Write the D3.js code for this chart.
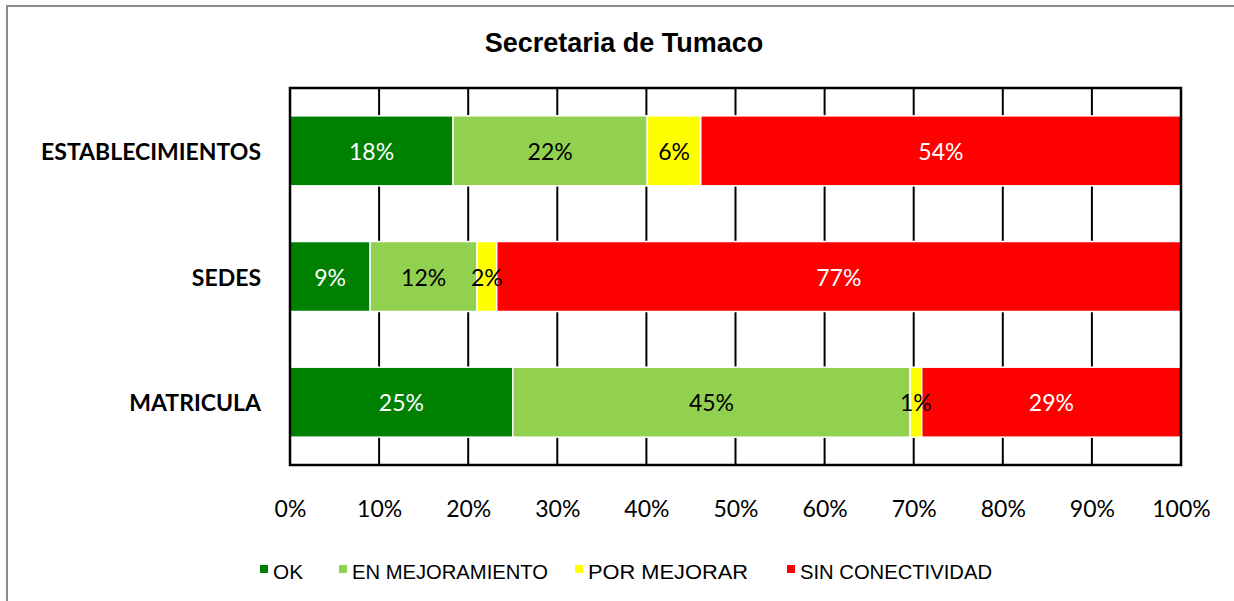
<!DOCTYPE html>
<html><head><meta charset="utf-8">
<script src="https://cdn.jsdelivr.net/npm/d3@7"></script>
<style>body{margin:0;background:#fff;overflow:hidden}</style>
</head><body>
<svg id="c" width="1234" height="601"></svg>
<script>
const categories = ["ESTABLECIMIENTOS", "SEDES", "MATRICULA"];
const seriesNames = ["OK", "EN MEJORAMIENTO", "POR MEJORAR", "SIN CONECTIVIDAD"];
const okValues = [18.3, 9.0, 25.0];
const enMejoramientoValues = [21.8, 12.0, 44.6];
const porMejorarValues = [6.0, 2.2, 1.3];
const sinConectividadValues = [53.9, 76.8, 29.1];
const tickValues = [0, 10, 20, 30, 40, 50, 60, 70, 80, 90, 100];
const titleText = "Secretaria de Tumaco";

const seriesColors = ["#008000", "#92d050", "#ffff00", "#ff0000"];
const labelColors = ["#ffffff", "#000000", "#000000", "#ffffff"];

const rows = categories.map((c, i) => ({
  cat: c,
  [seriesNames[0]]: okValues[i],
  [seriesNames[1]]: enMejoramientoValues[i],
  [seriesNames[2]]: porMejorarValues[i],
  [seriesNames[3]]: sinConectividadValues[i]
}));

const svg = d3.select("#c");
const plot = {left: 290, right: 1181, top: 88, bottom: 465};

// outer chart border
svg.append("rect").attr("x", 7).attr("y", 6).attr("width", 1240).attr("height", 610)
  .attr("fill", "#fff").attr("stroke", "#8c8c8c").attr("stroke-width", 2);

const x = d3.scaleLinear().domain([0, 100]).range([plot.left, plot.right]);
const y = d3.scaleBand().domain(categories).range([plot.top, plot.bottom])
  .paddingInner(0.443).paddingOuter(0.2215);

// gridlines
svg.append("g").selectAll("line").data(tickValues).join("line")
  .attr("x1", d => x(d)).attr("x2", d => x(d))
  .attr("y1", plot.top).attr("y2", plot.bottom)
  .attr("stroke", "#000").attr("stroke-width", 2);

// bars
const stack = d3.stack().keys(seriesNames)(rows);
const g = svg.append("g");
stack.forEach((s, si) => {
  g.selectAll(null).data(s).join("rect")
    .attr("x", d => x(d[0])).attr("width", d => x(d[1]) - x(d[0]))
    .attr("y", d => y(d.data.cat)).attr("height", y.bandwidth())
    .attr("fill", seriesColors[si]).attr("stroke", "#fff").attr("stroke-width", 1.5);
});
// data labels
stack.forEach((s, si) => {
  g.selectAll(null).data(s).join("text")
    .attr("x", d => x((d[0] + d[1]) / 2))
    .attr("y", d => y(d.data.cat) + y.bandwidth() / 2 + 9)
    .attr("text-anchor", "middle")
    .attr("font-family", "Lato, 'Open Sans', sans-serif")
    .attr("font-size", 23)
    .attr("fill", labelColors[si])
    .text(d => Math.round(d[1] - d[0]) + "%");
});

// plot frame
svg.append("rect").attr("x", plot.left).attr("y", plot.top)
  .attr("width", plot.right - plot.left).attr("height", plot.bottom - plot.top)
  .attr("fill", "none").attr("stroke", "#000").attr("stroke-width", 2.5);

// x axis
const xAxis = d3.axisBottom(x).tickValues(tickValues).tickSize(0).tickPadding(0)
  .tickFormat(d => d + "%");
const ax = svg.append("g").attr("transform", `translate(0,${plot.bottom})`).call(xAxis);
ax.select(".domain").remove();
ax.selectAll("text").attr("font-family", "Lato, 'Open Sans', sans-serif")
  .attr("font-size", 23).attr("fill", "#000").attr("dy", null).attr("y", 52);

// y axis
const yAxis = d3.axisLeft(y).tickSize(0).tickPadding(0);
const ay = svg.append("g").attr("transform", `translate(261,0)`).call(yAxis);
ay.select(".domain").remove();
ay.selectAll("text").attr("font-family", "Lato, 'Open Sans', sans-serif")
  .attr("font-weight", "bold").attr("font-size", 23).attr("fill", "#000")
  .attr("dy", null).attr("dominant-baseline", "central");

// title
svg.append("text").attr("x", 624).attr("y", 52).attr("text-anchor", "middle")
  .attr("font-family", "'Liberation Sans', Arial, sans-serif").attr("font-weight", "bold")
  .attr("font-size", 27).text(titleText);

// legend
const legendX = [260, 339, 575, 787];
const legendW = [30, 196, 160, 192];
const lg = svg.append("g");
seriesNames.forEach((n, i) => {
  lg.append("rect").attr("x", legendX[i]).attr("y", 565).attr("width", 8).attr("height", 8)
    .attr("fill", seriesColors[i]);
  lg.append("text").attr("x", legendX[i] + 13).attr("y", 579)
    .attr("font-family", "'Liberation Sans', Arial, sans-serif").attr("font-size", 20)
    .attr("textLength", legendW[i]).attr("lengthAdjust", "spacingAndGlyphs")
    .text(n);
});
</script>
</body></html>
